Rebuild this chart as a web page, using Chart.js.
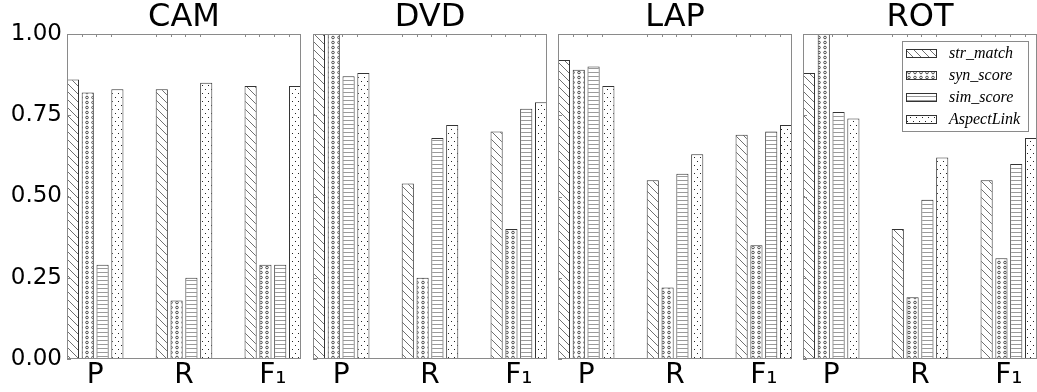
<!DOCTYPE html>
<html><head><meta charset="utf-8">
<script src="https://cdn.jsdelivr.net/npm/chart.js@4.4.1/dist/chart.umd.min.js"></script>
<style>
html,body{margin:0;padding:0;background:#fff;}
#wrap{position:relative;width:1037px;height:392px;background:#fff;}
canvas{position:absolute;left:0;top:0;}
</style>
</head><body>
<div id="wrap">
<canvas id="c0" width="1037" height="392"></canvas>
<canvas id="c1" width="1037" height="392"></canvas>
<canvas id="c2" width="1037" height="392"></canvas>
<canvas id="c3" width="1037" height="392"></canvas>
</div>
<script>
// ---- data ----
const panelNames = ['CAM', 'DVD', 'LAP', 'ROT'];
const metricLabels = ['P', 'R', 'F₁'];
const seriesNames = ['str_match', 'syn_score', 'sim_score', 'AspectLink'];
const yTickValues = [0, 0.25, 0.5, 0.75, 1.0];

const camStrMatch = [0.86, 0.83, 0.84];
const camSynScore = [0.82, 0.18, 0.29];
const camSimScore = [0.29, 0.25, 0.29];
const camAspectLink = [0.83, 0.85, 0.84];

const dvdStrMatch = [1.00, 0.54, 0.70];
const dvdSynScore = [1.00, 0.25, 0.40];
const dvdSimScore = [0.87, 0.68, 0.77];
const dvdAspectLink = [0.88, 0.72, 0.79];

const lapStrMatch = [0.92, 0.55, 0.69];
const lapSynScore = [0.89, 0.22, 0.35];
const lapSimScore = [0.90, 0.57, 0.70];
const lapAspectLink = [0.84, 0.63, 0.72];

const rotStrMatch = [0.88, 0.40, 0.55];
const rotSynScore = [1.00, 0.19, 0.31];
const rotSimScore = [0.76, 0.49, 0.60];
const rotAspectLink = [0.74, 0.62, 0.68];

const panelSeries = [
  [camStrMatch, camSynScore, camSimScore, camAspectLink],
  [dvdStrMatch, dvdSynScore, dvdSimScore, dvdAspectLink],
  [lapStrMatch, lapSynScore, lapSimScore, lapAspectLink],
  [rotStrMatch, rotSynScore, rotSimScore, rotAspectLink]
];

// ---- hatch patterns ----
function makePattern(kind) {
  const c = document.createElement('canvas');
  const g = c.getContext('2d');
  if (kind === 'diag') {
    c.width = 8; c.height = 8;
    g.fillStyle = '#fff'; g.fillRect(0, 0, 8, 8);
    g.strokeStyle = '#707070'; g.lineWidth = 1;
    g.beginPath();
    g.moveTo(-2, -2); g.lineTo(10, 10);
    g.moveTo(-2, 6); g.lineTo(2, 10);
    g.moveTo(6, -2); g.lineTo(10, 2);
    g.stroke();
  } else if (kind === 'rings') {
    c.width = 6; c.height = 5;
    g.fillStyle = '#fff'; g.fillRect(0, 0, 6, 5);
    g.strokeStyle = '#3a3a3a'; g.lineWidth = 0.9;
    g.beginPath(); g.arc(3, 2.5, 1.3, 0, Math.PI * 2); g.stroke();
  } else if (kind === 'hlines') {
    c.width = 4; c.height = 4;
    g.fillStyle = '#fff'; g.fillRect(0, 0, 4, 4);
    g.fillStyle = '#9a9a9a'; g.fillRect(0, 0, 4, 1);
  } else {
    c.width = 6; c.height = 8;
    g.fillStyle = '#fff'; g.fillRect(0, 0, 6, 8);
    g.fillStyle = '#222';
    g.fillRect(1, 1, 1, 1);
    g.fillRect(4, 5, 1, 1);
  }
  return g.createPattern(c, 'repeat');
}
const patterns = [makePattern('diag'), makePattern('rings'), makePattern('hlines'), makePattern('dots')];

// ---- plugins ----
const framePlugin = {
  id: 'frame',
  afterDatasetsDraw(chart) {
    const a = chart.chartArea, ctx = chart.ctx;
    ctx.save();
    ctx.strokeStyle = '#8a8a8a';
    ctx.lineWidth = 1;
    ctx.strokeRect(Math.round(a.left) + 0.5, Math.round(a.top) + 0.5, Math.round(a.right - a.left) - 1, Math.round(a.bottom - a.top) - 1);
    ctx.beginPath();
    chart.data.datasets.forEach((ds, i) => {
      chart.getDatasetMeta(i).data.forEach(bar => {
        const x = Math.round(bar.x - bar.width / 2) + 0.5;
        if (x > a.left + 2 && x < a.right - 2) {
          ctx.moveTo(x, a.top); ctx.lineTo(x, a.top + 3);
        }
      });
    });
    const ys = chart.scales.y;
    yTickValues.forEach(v => {
      const y = Math.round(ys.getPixelForValue(v)) + 0.5;
      ctx.moveTo(a.left, y); ctx.lineTo(a.left + 4, y);
    });
    ctx.stroke();
    ctx.restore();
  }
};

const boxLegendPlugin = {
  id: 'boxLegend',
  afterDraw(chart, args, opts) {
    if (!opts.show) return;
    const a = chart.chartArea, ctx = chart.ctx;
    const bw = 127, bh = 91;
    const bx = Math.round(a.right - 8 - bw), by = Math.round(a.top + 7);
    ctx.save();
    ctx.fillStyle = '#fff';
    ctx.fillRect(bx, by, bw, bh);
    ctx.strokeStyle = '#8a8a8a'; ctx.lineWidth = 1;
    ctx.strokeRect(bx + 0.5, by + 0.5, bw - 1, bh - 1);
    ctx.font = 'italic 16px "Liberation Serif"';
    ctx.textBaseline = 'middle';
    ctx.textAlign = 'left';
    chart.data.datasets.forEach((ds, i) => {
      const cy = by + 12 + i * 22;
      ctx.fillStyle = ds.backgroundColor;
      ctx.fillRect(bx + 4, cy - 4, 31, 9);
      ctx.strokeStyle = '#333';
      ctx.strokeRect(bx + 4.5, cy - 3.5, 30, 8);
      ctx.fillStyle = '#000';
      ctx.fillText(ds.label, bx + 47, cy + 1);
    });
    ctx.restore();
  }
};

// ---- charts ----
const plotLefts = [67, 313, 558, 803];
const plotWidth = 234;

panelNames.forEach((name, p) => {
  const isFirst = p === 0;
  const left = plotLefts[p];
  const right = left + plotWidth;
  const datasets = seriesNames.map((s, k) => ({
    label: s,
    data: metricLabels.map((m, i) => ({ x: i, y: panelSeries[p][k][i] })),
    backgroundColor: patterns[k],
    borderColor: '#333',
    borderWidth: 1,
    borderSkipped: false,
    categoryPercentage: 0.667,
    barPercentage: 0.82
  }));
  new Chart(document.getElementById('c' + p), {
    type: 'bar',
    data: { datasets },
    options: {
      responsive: false,
      animation: false,
      devicePixelRatio: 1,
      layout: { padding: { left: isFirst ? 0 : left, right: 1037 - right, top: 0, bottom: 0 } },
      scales: {
        x: {
          type: 'linear',
          offset: false,
          min: -0.317,
          max: 2.317,
          afterBuildTicks(scale) { scale.ticks = metricLabels.map((m, i) => ({ value: i })); },
          afterFit(scale) { scale.height = 33; },
          ticks: {
            callback: (v) => metricLabels[v],
            font: { family: 'DejaVu Sans', size: 28 },
            color: '#000',
            padding: 0,
            maxRotation: 0,
            autoSkip: false
          },
          grid: { display: false, drawTicks: false },
          border: { display: false }
        },
        y: {
          display: isFirst,
          min: 0,
          max: 1,
          afterBuildTicks(scale) { scale.ticks = yTickValues.map(v => ({ value: v })); },
          afterFit(scale) { if (isFirst) scale.width = 67; },
          ticks: {
            callback: (v) => Number(v).toFixed(2),
            font: { family: 'DejaVu Sans', size: 23 },
            color: '#000',
            padding: 5
          },
          grid: { display: false, drawTicks: false },
          border: { display: false }
        }
      },
      plugins: {
        legend: { display: false },
        tooltip: { enabled: false },
        title: {
          display: true,
          text: name,
          fullSize: false,
          color: '#000',
          font: { family: 'DejaVu Sans', size: 32, weight: 'normal', lineHeight: 1 },
          padding: { top: 2, bottom: 0 }
        },
        boxLegend: { show: p === 3 }
      }
    },
    plugins: [framePlugin, boxLegendPlugin]
  });
});
</script>
</body></html>
